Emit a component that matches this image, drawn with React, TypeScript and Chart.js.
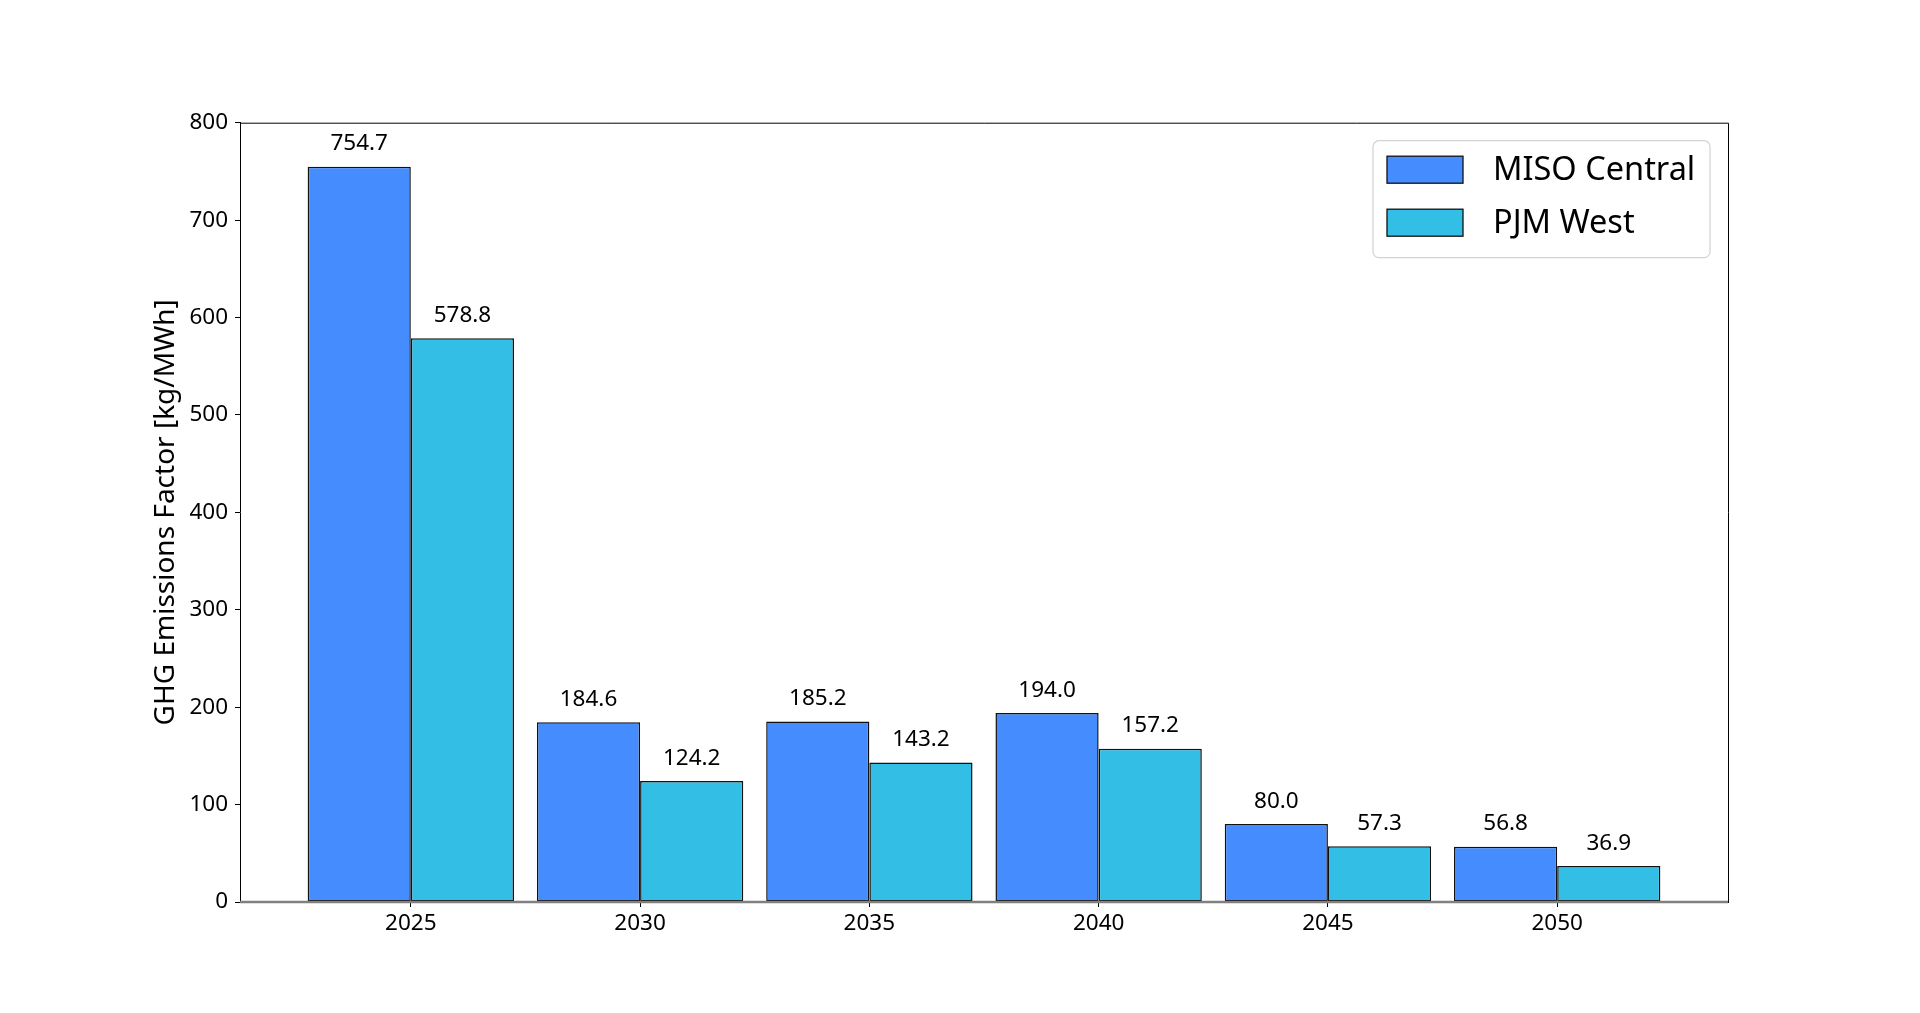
import { useEffect, useRef } from 'react'
import { Chart, registerables } from 'chart.js'

// Register Chart.js components
Chart.register(...registerables)

const years = ['2025', '2030', '2035', '2040', '2045', '2050']
const misoCentral = [754.7, 184.6, 185.2, 194.0, 80.0, 56.8]
const pjmWest = [578.8, 124.2, 143.2, 157.2, 57.3, 36.9]
const yTickValues = [0, 100, 200, 300, 400, 500, 600, 700, 800]

const FONT = "'Noto Sans', sans-serif"

// value labels above each bar
const barLabels = {
  id: 'barLabels',
  afterDatasetsDraw(chart: Chart) {
    const { ctx, chartArea } = chart
    ctx.save()
    // top / right spines
    ctx.strokeStyle = '#000'
    ctx.lineWidth = 1
    ctx.beginPath()
    ctx.moveTo(chartArea.left, chartArea.top + 0.5)
    ctx.lineTo(chartArea.right + 0.5, chartArea.top + 0.5)
    ctx.lineTo(chartArea.right + 0.5, chartArea.bottom)
    ctx.stroke()
    // grey zero line on top of the bars
    const y0 = chart.scales.y.getPixelForValue(0)
    ctx.strokeStyle = '#808080'
    ctx.lineWidth = 2.5
    ctx.beginPath()
    ctx.moveTo(chartArea.left, y0)
    ctx.lineTo(chartArea.right, y0)
    ctx.stroke()

    ctx.fillStyle = '#000'
    ctx.font = `22.5px ${FONT}`
    ctx.textAlign = 'center'
    ctx.textBaseline = 'alphabetic'
    chart.data.datasets.forEach((ds, di) => {
      const meta = chart.getDatasetMeta(di)
      meta.data.forEach((bar, i) => {
        const v = (ds.data[i] as any).y as number
        ctx.fillText(v.toFixed(1), bar.x, bar.y - 16.5)
      })
    })
    ctx.restore()
  },
}

// legend box in the upper right corner of the plot
const legendBox = {
  id: 'legendBox',
  afterDraw(chart: Chart) {
    const { ctx, chartArea } = chart
    const w = 337
    const h = 117
    const x = chartArea.right - 18 - w
    const y = chartArea.top + 18
    ctx.save()
    ctx.beginPath()
    ctx.roundRect(x, y, w, h, 6)
    ctx.fillStyle = 'rgba(255,255,255,0.8)'
    ctx.fill()
    ctx.strokeStyle = '#d3d3d3'
    ctx.lineWidth = 1.2
    ctx.stroke()
    chart.data.datasets.forEach((ds, i) => {
      const sy = y + 15.5 + i * 53
      ctx.fillStyle = ds.backgroundColor as string
      ctx.fillRect(x + 14, sy, 76, 27)
      ctx.strokeStyle = '#111'
      ctx.lineWidth = 1.3
      ctx.strokeRect(x + 14, sy, 76, 27)
      ctx.fillStyle = '#000'
      ctx.font = `32.5px ${FONT}`
      ctx.textAlign = 'left'
      ctx.textBaseline = 'middle'
      ctx.fillText(ds.label as string, x + 120, sy + 14.5)
    })
    ctx.restore()
  },
}

export default function App() {
  const chartRef = useRef<HTMLCanvasElement>(null)
  const chartInstance = useRef<Chart | null>(null)

  useEffect(() => {
    document.body.style.margin = '0'
    if (!chartRef.current) return
    if (chartInstance.current) chartInstance.current.destroy()

    Chart.defaults.font.family = FONT
    Chart.defaults.color = '#000'

    const ctx = chartRef.current.getContext('2d')
    if (!ctx) return
    chartInstance.current = new Chart(ctx, {
      type: 'bar',
      data: {
        datasets: [
          {
            label: 'MISO Central',
            data: misoCentral.map((v, i) => ({ x: i, y: v })),
            backgroundColor: '#458cff',
            borderColor: '#111',
            borderWidth: 1.5,
            borderSkipped: false,
          },
          {
            label: 'PJM West',
            data: pjmWest.map((v, i) => ({ x: i, y: v })),
            backgroundColor: '#33bee6',
            borderColor: '#111',
            borderWidth: 1.5,
            borderSkipped: false,
          },
        ],
      },
      options: {
        responsive: false,
        animation: false,
        categoryPercentage: 0.9,
        barPercentage: 1.0,
        layout: { padding: { left: 0, right: 192, top: 122.7, bottom: 0 } },
        plugins: {
          legend: { display: false },
          tooltip: { enabled: false },
        },
        scales: {
          x: {
            type: 'linear',
            min: -0.745,
            max: 5.745,
            offset: false,
            afterBuildTicks: (scale: any) => {
              scale.ticks = years.map((_, i) => ({ value: i }))
            },
            afterFit: (scale: any) => {
              scale.height = 111
            },
            grid: {
              offset: false,
              drawOnChartArea: false,
              drawTicks: true,
              tickLength: 5,
              color: '#000',
            },
            border: { display: true, color: '#000', width: 1 },
            ticks: {
              font: { size: 22.5 },
              color: '#000',
              padding: 3,
              maxRotation: 0,
              autoSkip: false,
              callback: (_v: any, index: number) => years[index],
            },
          },
          y: {
            min: 0,
            max: 800,
            afterBuildTicks: (scale: any) => {
              scale.ticks = yTickValues.map((v) => ({ value: v }))
            },
            afterFit: (scale: any) => {
              scale.width = 240
            },
            grid: {
              drawOnChartArea: false,
              drawTicks: true,
              tickLength: 5,
              color: '#000',
            },
            border: { display: true, color: '#000', width: 1 },
            ticks: {
              font: { size: 22.5 },
              color: '#000',
              padding: 7,
            },
            title: {
              display: true,
              text: 'GHG Emissions Factor [kg/MWh]',
              font: { size: 28 },
              color: '#000',
              padding: { top: 149, bottom: 0 },
            },
          },
        },
      },
      plugins: [barLabels, legendBox],
    })

    return () => {
      if (chartInstance.current) {
        chartInstance.current.destroy()
        chartInstance.current = null
      }
    }
  }, [])

  return (
    <div style={{ position: 'absolute', left: 0, top: 0, width: 1920, height: 1013, background: '#fff' }}>
      <canvas ref={chartRef} width={1920} height={1013} style={{ display: 'block' }}></canvas>
    </div>
  )
}
